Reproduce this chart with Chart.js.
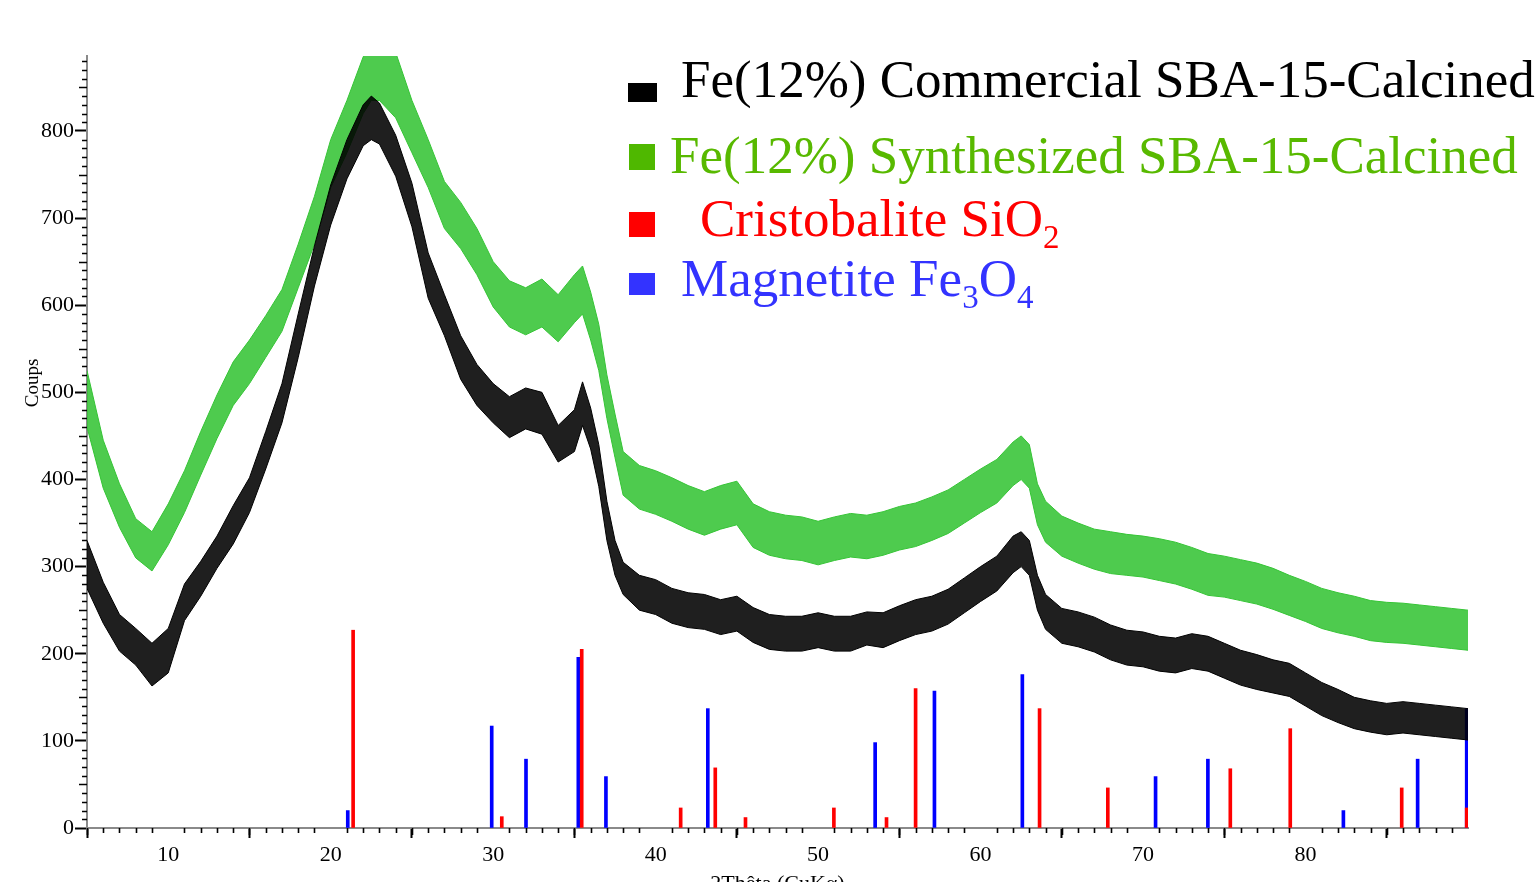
<!DOCTYPE html>
<html>
<head>
<meta charset="utf-8">
<title>XRD Fe(12%) SBA-15</title>
<script src="https://cdn.jsdelivr.net/npm/chart.js@4.4.1/dist/chart.umd.min.js"></script>
<style>
  body { margin: 0; background: #fff; overflow: hidden; }
  #wrap { position: relative; width: 1539px; height: 882px; }
  #xrd { position: absolute; left: 0; top: 0; }
  .lg { position: absolute; font-family: 'Liberation Serif', 'Times New Roman', serif; font-size: 53px; line-height: 53px; white-space: nowrap; }
  .sw { position: absolute; }
  .sub { font-size: 33px; position: relative; top: 12px; }
  #ytitle { position: absolute; left: -8px; top: 372px; width: 80px; height: 22px; line-height: 22px; text-align: center;
            font-family: 'Liberation Serif', serif; font-size: 19px; color: #000; transform: rotate(-90deg); }
</style>
</head>
<body>
<div id="wrap">
  <canvas id="xrd" width="1539" height="882"></canvas>
  <div id="ytitle">Coups</div>

  <div class="sw" style="left:628px;top:83px;width:29px;height:19px;background:#000"></div>
  <div class="lg" style="left:681px;top:53px;color:#000">Fe(12%) Commercial SBA-15-Calcined</div>

  <div class="sw" style="left:629px;top:144px;width:26px;height:26px;background:#4fb800"></div>
  <div class="lg" style="left:670px;top:129px;color:#58b900">Fe(12%) Synthesized SBA-15-Calcined</div>

  <div class="sw" style="left:629px;top:212px;width:26px;height:25px;background:#ff0000"></div>
  <div class="lg" style="left:700px;top:192px;color:#ff0000">Cristobalite SiO<span class="sub">2</span></div>

  <div class="sw" style="left:629px;top:273px;width:26px;height:22px;background:#3333ff"></div>
  <div class="lg" style="left:681px;top:252px;color:#3333ff">Magnetite Fe<span class="sub">3</span>O<span class="sub">4</span></div>
</div>

<script>
'use strict';

// ---- 2theta grid of the two scans (deg) ----
const twoTheta = [
  5, 6, 7, 8, 9, 10, 11, 12, 13, 14,
  15, 16, 17, 18, 19, 20, 21, 22, 22.5, 23,
  24, 25, 26, 27, 28, 29, 30, 31, 32, 33,
  34, 35, 35.5, 36, 36.5, 37, 37.5, 38, 39, 40,
  41, 42, 43, 44, 45, 46, 47, 48, 49, 50,
  51, 52, 53, 54, 55, 56, 57, 58, 59, 60,
  61, 62, 62.5, 63, 63.5, 64, 65, 66, 67, 68,
  69, 70, 71, 72, 73, 74, 75, 76, 77, 78,
  79, 80, 81, 82, 83, 84, 85, 86, 87, 88,
  89, 90,
];

// ---- Commercial SBA-15 scan: top / bottom of the noise band (coups) ----
const commercialHigh = [
  330, 282, 245, 229, 212, 229, 280, 306, 335, 370,
  402, 455, 510, 590, 668, 738, 790, 830, 840, 832,
  795, 740, 660, 612, 565, 532, 510, 495, 505, 500,
  462, 480, 512, 482, 440, 375, 330, 305, 290, 285,
  275, 270, 268, 262, 266, 253, 245, 243, 243, 247,
  243, 243, 248, 247, 255, 262, 266, 274, 287, 300,
  312, 335, 340, 330, 290, 268, 252, 248, 242, 233,
  227, 225, 220, 218, 223, 220, 212, 204, 199, 193,
  189, 178, 167, 159, 150, 146, 143, 145, 143, 141,
  139, 137,
];
const commercialLow = [
  275, 235, 203, 187, 163, 178, 238, 266, 298, 326,
  362, 412, 465, 540, 622, 692, 745, 783, 790, 785,
  748, 690, 608, 565, 515, 485, 465, 448, 458, 452,
  420, 432, 462, 435, 392, 330, 290, 268, 250, 245,
  235, 230, 228, 222, 226, 213, 205, 203, 203, 207,
  203, 203, 210, 207, 215, 222, 226, 234, 247, 260,
  272, 293, 300, 290, 250, 228, 212, 208, 202, 193,
  187, 185, 180, 178, 183, 180, 172, 164, 159, 155,
  151, 140, 129, 121, 114, 110, 107, 109, 107, 105,
  103, 101,
];

// ---- Synthesized SBA-15 scan ----
const synthesizedHigh = [
  525, 445, 395, 355, 340, 372, 410, 455, 497, 535,
  560, 588, 618, 670, 725, 790, 835, 885, 900, 900,
  890, 835, 790, 742, 718, 688, 650, 628, 620, 630,
  612, 635, 645, 615, 578, 520, 475, 432, 416, 410,
  402, 393, 386, 393, 398, 372, 363, 359, 357, 352,
  357, 361, 359, 363, 369, 373, 380, 388, 400, 412,
  423, 443, 450, 440, 395, 375, 358, 350, 343, 340,
  337, 335, 332, 328, 322, 315, 312, 308, 304, 298,
  290, 283, 275, 270, 266, 261, 259, 258, 256, 254,
  252, 250,
];
const synthesizedLow = [
  460, 390, 345, 310, 295, 325, 362, 405, 447, 485,
  510, 540, 570, 620, 670, 735, 775, 820, 835, 835,
  815, 775, 735, 688, 665, 635, 598, 575, 566, 575,
  558, 580, 590, 560, 525, 470, 425, 382, 366, 360,
  352, 343, 336, 343, 348, 322, 313, 309, 307, 302,
  307, 311, 309, 313, 319, 323, 330, 338, 350, 362,
  373, 393, 400, 390, 348, 328, 312, 304, 297, 292,
  290, 288, 284, 280, 274, 267, 265, 261, 257, 251,
  244, 237, 229, 224, 220, 215, 213, 212, 210, 208,
  206, 204,
];

// ---- reference patterns (stick positions / heights) ----
const cristobalitePos = [21.38, 30.53, 35.45, 41.54, 43.67, 45.53, 50.97, 54.21, 56.0, 63.63, 67.83, 75.37, 79.06, 85.92, 89.92];
const cristobaliteInt = [227, 13, 205, 23, 69, 12, 23, 12, 160, 137, 46, 68, 114, 46, 23];
const magnetitePos = [21.05, 29.91, 32.02, 35.24, 36.94, 43.21, 53.51, 57.16, 62.57, 70.77, 73.99, 82.33, 86.9, 89.92];
const magnetiteInt = [20, 117, 79, 196, 59, 137, 98, 157, 176, 59, 79, 20, 79, 137];

// ---- axis ----
const xMin = 5, xMax = 90, yMin = 0, yMax = 886;

const serif = "'Liberation Serif', 'Times New Roman', serif";

function pairs(xs, ys) {
  return xs.map((x, i) => ({ x: x, y: ys[i] }));
}

// small ticks between the labelled ones
const minorTicks = {
  id: 'minorTicks',
  afterDraw(chart) {
    const { ctx, chartArea: a } = chart;
    const x = chart.scales.x, y = chart.scales.y;
    ctx.save();
    ctx.strokeStyle = '#000';
    ctx.lineWidth = 1.6;
    ctx.beginPath();
    for (let v = xMin; v < xMax; v++) {
      if (v % 10 === 0) continue;
      const px = Math.round(x.getPixelForValue(v)) + 0.5;
      const len = v % 5 === 0 ? 7 : 5;
      ctx.moveTo(px, a.bottom);
      ctx.lineTo(px, a.bottom + len);
    }
    for (let v = 10; v < yMax; v += 10) {
      if (v % 100 === 0) continue;
      const py = Math.round(y.getPixelForValue(v)) + 0.5;
      const len = v % 50 === 0 ? 8 : 5;
      ctx.moveTo(a.left - len, py);
      ctx.lineTo(a.left, py);
    }
    ctx.stroke();
    ctx.restore();
  },
};

function initXrdChart() {
  const ctx = document.getElementById('xrd');

  new Chart(ctx, {
    type: 'line',
    data: {
      datasets: [
        {
          label: 'Fe(12%) Commercial SBA-15-Calcined',
          data: pairs(twoTheta, commercialHigh),
          borderColor: '#000',
          borderWidth: 1,
          pointRadius: 0,
          tension: 0,
          fill: false,
        },
        {
          label: 'commercial low',
          data: pairs(twoTheta, commercialLow),
          borderColor: '#000',
          backgroundColor: 'rgba(0,0,0,0.88)',
          borderWidth: 1,
          pointRadius: 0,
          tension: 0,
          fill: '-1',
        },
        {
          label: 'Fe(12%) Synthesized SBA-15-Calcined',
          data: pairs(twoTheta, synthesizedHigh),
          borderColor: '#35c435',
          borderWidth: 1,
          pointRadius: 0,
          tension: 0,
          fill: false,
        },
        {
          label: 'synthesized low',
          data: pairs(twoTheta, synthesizedLow),
          borderColor: '#35c435',
          backgroundColor: 'rgba(53,196,53,0.88)',
          borderWidth: 1,
          pointRadius: 0,
          tension: 0,
          fill: '-1',
        },
        {
          type: 'bar',
          label: 'Cristobalite SiO2',
          data: pairs(cristobalitePos, cristobaliteInt),
          backgroundColor: '#ff0000',
          barThickness: 3,
          grouped: false,
        },
        {
          type: 'bar',
          label: 'Magnetite Fe3O4',
          data: pairs(magnetitePos, magnetiteInt),
          backgroundColor: '#0000ff',
          barThickness: 3,
          grouped: false,
        },
      ],
    },
    options: {
      responsive: false,
      animation: false,
      devicePixelRatio: 1,
      layout: { padding: { top: 56, right: 71, left: 0, bottom: 0 } },
      plugins: {
        legend: { display: false },
        tooltip: { enabled: false },
      },
      scales: {
        x: {
          type: 'linear',
          min: xMin,
          max: xMax,
          offset: false,
          afterFit: s => { s.height = 54; },
          afterBuildTicks: s => { s.ticks = s.ticks.filter(t => t.value <= 80); },
          border: { display: true, color: '#8a8a8a', width: 2 },
          grid: { drawOnChartArea: false, drawTicks: true, tickLength: 10, tickColor: '#000', tickWidth: 2 },
          ticks: { stepSize: 10, includeBounds: false, maxRotation: 0, padding: 4, color: '#000', font: { size: 22, family: serif } },
          title: {
            display: true,
            text: '2Thêta (CuKα)',
            color: '#000',
            font: { size: 22, family: serif },
            padding: { top: 0, bottom: -15 },
          },
        },
        y: {
          min: yMin,
          max: yMax,
          afterFit: s => { s.width = 87; },
          border: { display: true, color: '#8a8a8a', width: 2 },
          grid: { drawOnChartArea: false, drawTicks: true, tickLength: 12, tickColor: '#000', tickWidth: 2 },
          ticks: { stepSize: 100, includeBounds: false, padding: 1, color: '#000', font: { size: 22, family: serif } },
        },
      },
    },
    plugins: [minorTicks],
  });
}

initXrdChart();
</script>
</body>
</html>
